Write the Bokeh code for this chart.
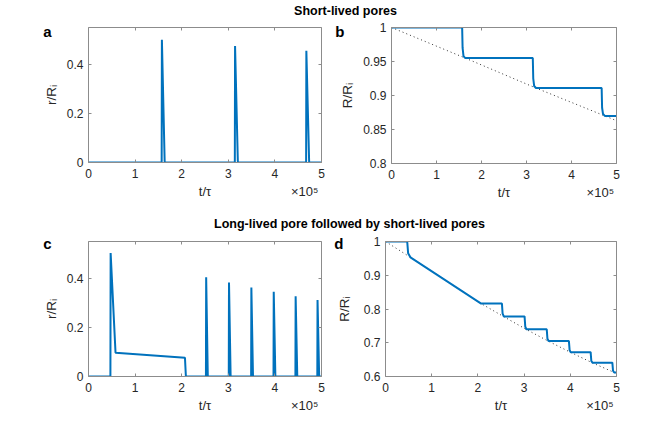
import json
from bokeh.plotting import figure
from bokeh.layouts import column, row
from bokeh.models import Range1d, FixedTicker, LinearAxis, Label, CustomJSTickFormatter
from bokeh.embed import file_html
from bokeh.resources import INLINE

# ---------------- data (time in units of 1e5 tau) ----------------
x_ticks = [0, 1, 2, 3, 4, 5]
x_label = "t/τ"
x_scale_label = "×10⁵"

# panel a: short-lived pores, pore radius
t_a = [0, 1.57, 1.575, 1.635, 3.14, 3.145, 3.205, 4.67, 4.675, 4.735, 5]
r_a = [0, 0, 0.50, 0, 0, 0.475, 0, 0, 0.455, 0, 0]

# panel b: short-lived pores, vesicle radius
t_b = [0, 1.57, 1.58, 1.60, 1.64, 3.14, 3.15, 3.17, 3.21, 4.67, 4.68, 4.70, 4.74, 5]
R_b = [1, 1, 0.970, 0.958, 0.955, 0.955, 0.925, 0.914, 0.911, 0.911, 0.882, 0.873, 0.870, 0.870]
t_b_ref = [0, 1.64, 3.21, 4.74, 5]
R_b_ref = [1, 0.955, 0.911, 0.870, 0.863]

# panel c: long-lived pore followed by short-lived pores, pore radius
t_c = [0, 0.47, 0.475, 0.58, 2.07, 2.09,
       2.52, 2.525, 2.56, 3.01, 3.015, 3.05, 3.49, 3.495, 3.53,
       3.97, 3.975, 4.01, 4.44, 4.445, 4.48, 4.91, 4.915, 4.95, 5]
r_c = [0, 0, 0.503, 0.097, 0.076, 0,
       0, 0.404, 0, 0, 0.383, 0, 0, 0.363, 0,
       0, 0.345, 0, 0, 0.327, 0, 0, 0.312, 0, 0]

# panel d: long-lived pore followed by short-lived pores, vesicle radius
t_d = [0, 0.47, 0.49, 0.54, 2.07, 2.52, 2.535, 2.56, 3.01, 3.025, 3.05,
       3.49, 3.505, 3.53, 3.97, 3.985, 4.01, 4.44, 4.455, 4.48, 4.91, 4.925, 4.95, 5]
R_d = [1, 1, 0.965, 0.953, 0.816, 0.816, 0.786, 0.778, 0.778, 0.748, 0.740,
       0.740, 0.712, 0.705, 0.705, 0.678, 0.672, 0.672, 0.646, 0.641, 0.641, 0.617, 0.612, 0.612]
t_d_ref = [0, 0.54, 2.07, 2.55, 3.04, 3.52, 4.00, 4.47, 4.95, 5]
R_d_ref = [1, 0.953, 0.816, 0.778, 0.740, 0.705, 0.672, 0.641, 0.612, 0.609]

title_top = "Short-lived pores"
title_bottom = "Long-lived pore followed by short-lived pores"

# ---------------- styling ----------------
FONT = "Liberation Sans"
AX = "#8c8c8c"
TXT = "#262626"
BLUE = "#0072BD"
TICK_FS = "12px"
LAB_FS = "13.5px"


def js_text(s):
    return CustomJSTickFormatter(code="return %s;" % json.dumps(s))


def style_axis(ax, show_labels=True):
    ax.axis_line_color = AX
    ax.major_tick_line_color = AX
    ax.major_tick_in = 3
    ax.major_tick_out = 0
    ax.minor_tick_line_color = None
    if show_labels:
        ax.major_label_text_font = FONT
        ax.major_label_text_font_size = TICK_FS
        ax.major_label_text_color = TXT
        ax.axis_label_text_font = FONT
        ax.axis_label_text_font_size = LAB_FS
        ax.axis_label_text_font_style = "normal"
        ax.axis_label_text_color = TXT
        ax.formatter = CustomJSTickFormatter(code="return String(Number(tick.toFixed(4)));")
    else:
        ax.major_label_text_font_size = "0px"
        ax.major_label_standoff = 0
        ax.formatter = js_text("")


def text_axis(ticks, formatter, size, style, standoff):
    ax = LinearAxis(ticker=FixedTicker(ticks=ticks), formatter=formatter)
    ax.axis_line_color = None
    ax.major_tick_line_color = None
    ax.minor_tick_line_color = None
    ax.major_tick_in = 0
    ax.major_tick_out = 0
    ax.major_label_standoff = standoff
    ax.major_label_text_font = FONT
    ax.major_label_text_font_size = size
    ax.major_label_text_font_style = style
    ax.major_label_text_color = TXT if style == "normal" else "black"
    return ax


def make_panel(fw, fh, bl, br, bt, bb, yr, yticks, ylabel, ylab_stand,
               letter, letter_y, letter_stand):
    p = figure(frame_width=fw, frame_height=fh,
               min_border_left=bl, min_border_right=br,
               min_border_top=bt, min_border_bottom=bb,
               x_range=Range1d(0, 5), y_range=Range1d(*yr),
               output_backend="svg", toolbar_location=None, title=None)
    p.grid.visible = False
    p.outline_line_color = None
    p.background_fill_color = "white"
    p.border_fill_color = "white"

    xa = p.below[0]
    ya = p.left[0]
    xa.ticker = FixedTicker(ticks=x_ticks)
    ya.ticker = FixedTicker(ticks=yticks)
    style_axis(xa)
    style_axis(ya)
    ya.axis_label = ylabel
    xa.major_label_standoff = 6
    ya.major_label_standoff = 5
    ya.axis_label_standoff = ylab_stand

    # second row below the x axis: axis title and the x10^5 multiplier
    lab_pos = [2.5, 4.64]
    lab_fmt = CustomJSTickFormatter(
        code="return tick < 3 ? %s : %s;" % (json.dumps(x_label), json.dumps(x_scale_label)))
    p.add_layout(text_axis(lab_pos, lab_fmt, "13px", "normal", 3), "below")

    # panel letter, outside the y-axis label
    p.add_layout(text_axis([letter_y], js_text(letter), "15px", "bold", letter_stand), "left")

    top = LinearAxis(ticker=FixedTicker(ticks=x_ticks))
    style_axis(top, False)
    p.add_layout(top, "above")
    right = LinearAxis(ticker=FixedTicker(ticks=yticks))
    style_axis(right, False)
    p.add_layout(right, "right")
    return p


def make_title(h, text, cx, cy):
    t = figure(frame_width=650, frame_height=h, x_range=Range1d(0, 650), y_range=Range1d(0, h),
               x_axis_type=None, y_axis_type=None, output_backend="svg",
               toolbar_location=None, min_border=0, title=None)
    t.outline_line_color = None
    t.grid.visible = False
    t.add_layout(Label(x=cx, y=cy, text=text, text_font=FONT, text_font_size="12.5px",
                       text_font_style="bold", text_color="black", text_align="center",
                       text_baseline="middle"))
    return t


fa = make_panel(233, 135, 88, 7, 7, 51, (0, 0.55), [0, 0.2, 0.4], "r/Rᵢ", 5,
                "a", 0.534, -11)
fa.line(t_a, r_a, line_color=BLUE, line_width=2)

fb = make_panel(225, 136, 63, 34, 6, 51, (0.8, 1.0), [0.8, 0.85, 0.9, 0.95, 1.0], "R/Rᵢ", 5,
                "b", 0.994, -7)
fb.line(t_b_ref, R_b_ref, line_color="#333333", line_width=1, line_dash="1 3")
fb.line(t_b, R_b, line_color=BLUE, line_width=2)

fc = make_panel(233, 135, 88, 7, 8, 39, (0, 0.55), [0, 0.2, 0.4], "r/Rᵢ", 5,
                "c", 0.543, -11)
fc.line(t_c, r_c, line_color=BLUE, line_width=2)

fd = make_panel(231, 135, 57, 34, 8, 39, (0.6, 1.0), [0.6, 0.7, 0.8, 0.9, 1.0], "R/Rᵢ", 9,
                "d", 0.995, -10)
fd.line(t_d_ref, R_d_ref, line_color="#333333", line_width=1, line_dash="1 3")
fd.line(t_d, R_d, line_color=BLUE, line_width=2)

t1 = make_title(20, title_top, 345, 9.4)
t2 = make_title(20, title_bottom, 349, 9.4)

layout = column(t1, row(fa, fb), t2, row(fc, fd))

open("out.html", "w").write(file_html(layout, INLINE))
